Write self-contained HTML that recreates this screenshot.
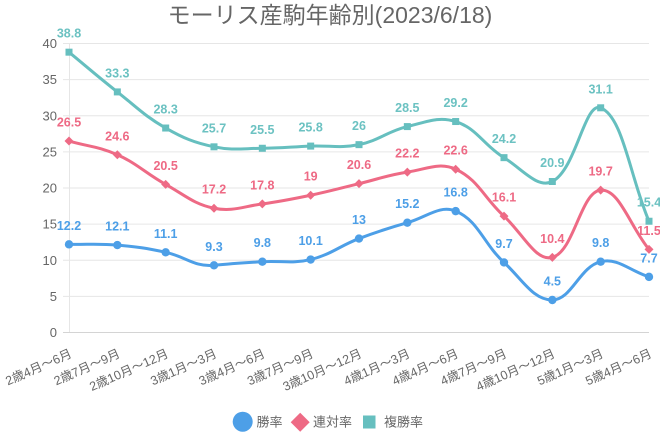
<!DOCTYPE html>
<html>
<head>
<meta charset="utf-8">
<style>
html,body{margin:0;padding:0;background:#fff;}
svg{display:block;}
text{font-family:"Liberation Sans","Noto Sans CJK JP",sans-serif;}
</style>
</head>
<body>
<svg width="660" height="440" viewBox="0 0 660 440" xmlns="http://www.w3.org/2000/svg">
<rect width="660" height="440" fill="#fff"/>
<!-- title -->
<text x="330" y="23" text-anchor="middle" font-size="23" fill="#666">モーリス産駒年齢別(2023/6/18)</text>

<!-- grid -->
<g stroke="#e6e6e6" stroke-width="1">
<line x1="63" y1="43.5" x2="649" y2="43.5"/>
<line x1="63" y1="79.6" x2="649" y2="79.6"/>
<line x1="63" y1="115.75" x2="649" y2="115.75"/>
<line x1="63" y1="151.9" x2="649" y2="151.9"/>
<line x1="63" y1="188" x2="649" y2="188"/>
<line x1="63" y1="224.1" x2="649" y2="224.1"/>
<line x1="63" y1="260.25" x2="649" y2="260.25"/>
<line x1="63" y1="296.4" x2="649" y2="296.4"/>
<line x1="69.5" y1="43" x2="69.5" y2="333"/>
</g>
<line x1="63" y1="332.5" x2="649" y2="332.5" stroke="#d4d4d4" stroke-width="1"/>

<!-- y labels -->
<g font-size="13" fill="#666" text-anchor="end">
<text x="57" y="48">40</text>
<text x="57" y="84.1">35</text>
<text x="57" y="120.25">30</text>
<text x="57" y="156.4">25</text>
<text x="57" y="192.5">20</text>
<text x="57" y="228.6">15</text>
<text x="57" y="264.75">10</text>
<text x="57" y="300.9">5</text>
<text x="57" y="337">0</text>
</g>

<!-- x labels -->
<g font-size="12.5" fill="#666" text-anchor="end" dominant-baseline="central">
<text transform="translate(71,353) rotate(-24)">2歳4月～6月</text>
<text transform="translate(119.33,353) rotate(-24)">2歳7月～9月</text>
<text transform="translate(167.67,353) rotate(-24)">2歳10月～12月</text>
<text transform="translate(216,353) rotate(-24)">3歳1月～3月</text>
<text transform="translate(264.33,353) rotate(-24)">3歳4月～6月</text>
<text transform="translate(312.67,353) rotate(-24)">3歳7月～9月</text>
<text transform="translate(361,353) rotate(-24)">3歳10月～12月</text>
<text transform="translate(409.33,353) rotate(-24)">4歳1月～3月</text>
<text transform="translate(457.67,353) rotate(-24)">4歳4月～6月</text>
<text transform="translate(506,353) rotate(-24)">4歳7月～9月</text>
<text transform="translate(554.33,353) rotate(-24)">4歳10月～12月</text>
<text transform="translate(602.67,353) rotate(-24)">5歳1月～3月</text>
<text transform="translate(651,353) rotate(-24)">5歳4月～6月</text>
</g>

<!-- teal 複勝率 -->
<path fill="none" stroke="#66bfbf" stroke-width="3" stroke-linejoin="round" d="M69,52.17 C88.33,68.07 97.65,76.46 117.33,91.91 C136.31,106.81 144.88,116.22 165.67,128.03 C183.54,138.18 193.99,142.63 214,146.82 C232.66,150.72 243.0,148.41 262.33,148.26 C281.66,148.11 291.34,146.81 310.67,146.09 C330.0,145.37 340.30,148.42 359,144.65 C378.96,140.62 387.42,131.35 407.33,126.59 C426.08,122.10 438.42,115.99 455.67,121.53 C477.09,128.41 483.57,144.98 504,157.65 C522.24,168.97 537.66,189.07 552.33,181.50 C576.32,169.13 584.56,101.18 600.67,107.80 C623.22,117.07 629.67,175.86 649,221.23"/>
<g fill="#66bfbf">
<rect x="65.5" y="48.67" width="7" height="7"/>
<rect x="113.83" y="88.41" width="7" height="7"/>
<rect x="162.17" y="124.53" width="7" height="7"/>
<rect x="210.5" y="143.32" width="7" height="7"/>
<rect x="258.83" y="144.76" width="7" height="7"/>
<rect x="307.17" y="142.59" width="7" height="7"/>
<rect x="355.5" y="141.15" width="7" height="7"/>
<rect x="403.83" y="123.09" width="7" height="7"/>
<rect x="452.17" y="118.03" width="7" height="7"/>
<rect x="500.5" y="154.15" width="7" height="7"/>
<rect x="548.83" y="178" width="7" height="7"/>
<rect x="597.17" y="104.3" width="7" height="7"/>
<rect x="645.5" y="217.73" width="7" height="7"/>
</g>

<!-- red 連対率 -->
<path fill="none" stroke="#ee6a85" stroke-width="3" stroke-linejoin="round" d="M69,141.04 C88.33,146.53 99.16,146.61 117.33,154.76 C137.83,163.95 145.84,173.42 165.67,184.39 C184.51,194.81 193.65,204.13 214,208.23 C232.32,211.93 243.11,206.48 262.33,203.89 C281.78,201.27 291.48,199.24 310.67,195.22 C330.15,191.14 339.67,188.28 359,183.66 C378.33,179.04 387.75,175.03 407.33,172.10 C426.41,169.25 439.51,161.84 455.67,169.21 C478.17,179.47 484.09,198.02 504,216.18 C522.75,233.28 535.54,261.87 552.33,257.36 C574.21,251.48 580.57,191.82 600.67,190.17 C619.24,188.64 629.67,225.71 649,249.41"/>
<g fill="#ee6a85">
<path d="M69,136.54 l4.5,4.5 l-4.5,4.5 l-4.5,-4.5z"/>
<path d="M117.33,150.26 l4.5,4.5 l-4.5,4.5 l-4.5,-4.5z"/>
<path d="M165.67,179.89 l4.5,4.5 l-4.5,4.5 l-4.5,-4.5z"/>
<path d="M214,203.73 l4.5,4.5 l-4.5,4.5 l-4.5,-4.5z"/>
<path d="M262.33,199.39 l4.5,4.5 l-4.5,4.5 l-4.5,-4.5z"/>
<path d="M310.67,190.72 l4.5,4.5 l-4.5,4.5 l-4.5,-4.5z"/>
<path d="M359,179.16 l4.5,4.5 l-4.5,4.5 l-4.5,-4.5z"/>
<path d="M407.33,167.6 l4.5,4.5 l-4.5,4.5 l-4.5,-4.5z"/>
<path d="M455.67,164.71 l4.5,4.5 l-4.5,4.5 l-4.5,-4.5z"/>
<path d="M504,211.68 l4.5,4.5 l-4.5,4.5 l-4.5,-4.5z"/>
<path d="M552.33,252.86 l4.5,4.5 l-4.5,4.5 l-4.5,-4.5z"/>
<path d="M600.67,185.67 l4.5,4.5 l-4.5,4.5 l-4.5,-4.5z"/>
<path d="M649,244.91 l4.5,4.5 l-4.5,4.5 l-4.5,-4.5z"/>
</g>

<!-- blue 勝率 -->
<path fill="none" stroke="#4d9fe7" stroke-width="3" stroke-linejoin="round" d="M69,244.35 C88.33,244.64 98.10,243.50 117.33,245.08 C136.77,246.68 146.57,248.30 165.67,252.30 C185.24,256.39 194.36,267.26 214,265.31 C233.02,263.42 242.98,262.85 262.33,261.69 C281.64,260.54 292.16,263.96 310.67,259.53 C330.83,254.71 339.33,246.07 359,238.57 C378.00,231.33 387.77,228.23 407.33,222.68 C426.44,217.25 439.68,204.55 455.67,211.12 C478.35,220.44 483.30,243.39 504,262.42 C521.97,278.94 533.06,300.14 552.33,299.99 C571.73,299.84 579.44,266.77 600.67,261.69 C618.11,257.52 629.67,270.80 649,276.87"/>
<g fill="#4d9fe7">
<circle cx="69" cy="244.35" r="4.2"/>
<circle cx="117.33" cy="245.08" r="4.2"/>
<circle cx="165.67" cy="252.3" r="4.2"/>
<circle cx="214" cy="265.31" r="4.2"/>
<circle cx="262.33" cy="261.69" r="4.2"/>
<circle cx="310.67" cy="259.53" r="4.2"/>
<circle cx="359" cy="238.57" r="4.2"/>
<circle cx="407.33" cy="222.68" r="4.2"/>
<circle cx="455.67" cy="211.12" r="4.2"/>
<circle cx="504" cy="262.42" r="4.2"/>
<circle cx="552.33" cy="299.99" r="4.2"/>
<circle cx="600.67" cy="261.69" r="4.2"/>
<circle cx="649" cy="276.87" r="4.2"/>
</g>

<!-- data labels -->
<g font-size="12.5" font-weight="bold" text-anchor="middle">
<g fill="#6cc2c2">
<text x="69" y="37.67">38.8</text>
<text x="117.33" y="77.41">33.3</text>
<text x="165.67" y="113.53">28.3</text>
<text x="214" y="132.32">25.7</text>
<text x="262.33" y="133.76">25.5</text>
<text x="310.67" y="131.59">25.8</text>
<text x="359" y="130.15">26</text>
<text x="407.33" y="112.09">28.5</text>
<text x="455.67" y="107.03">29.2</text>
<text x="504" y="143.15">24.2</text>
<text x="552.33" y="167">20.9</text>
<text x="600.67" y="93.3">31.1</text>
<text x="649" y="206.73">15.4</text>
</g>
<g fill="#ee6a85">
<text x="69" y="126.54">26.5</text>
<text x="117.33" y="140.26">24.6</text>
<text x="165.67" y="169.89">20.5</text>
<text x="214" y="193.73">17.2</text>
<text x="262.33" y="189.39">17.8</text>
<text x="310.67" y="180.72">19</text>
<text x="359" y="169.16">20.6</text>
<text x="407.33" y="157.6">22.2</text>
<text x="455.67" y="154.71">22.6</text>
<text x="504" y="201.68">16.1</text>
<text x="552.33" y="242.86">10.4</text>
<text x="600.67" y="175.67">19.7</text>
<text x="649" y="234.91">11.5</text>
</g>
<g fill="#4d9fe7">
<text x="69" y="229.85">12.2</text>
<text x="117.33" y="230.58">12.1</text>
<text x="165.67" y="237.8">11.1</text>
<text x="214" y="250.81">9.3</text>
<text x="262.33" y="247.19">9.8</text>
<text x="310.67" y="245.03">10.1</text>
<text x="359" y="224.07">13</text>
<text x="407.33" y="208.18">15.2</text>
<text x="455.67" y="196.62">16.8</text>
<text x="504" y="247.92">9.7</text>
<text x="552.33" y="285.49">4.5</text>
<text x="600.67" y="247.19">9.8</text>
<text x="649" y="262.37">7.7</text>
</g>
</g>

<!-- legend -->
<circle cx="242.7" cy="421.7" r="10" fill="#4d9fe7"/>
<text x="256.5" y="426.5" font-size="13" fill="#666">勝率</text>
<path d="M300.2,412.7 l9.5,9.5 l-9.5,9.5 l-9.5,-9.5z" fill="#ee6a85"/>
<text x="313" y="426.5" font-size="13" fill="#666">連対率</text>
<rect x="363" y="415.5" width="12.5" height="13" fill="#66bfbf"/>
<text x="384" y="426.5" font-size="13" fill="#666">複勝率</text>
</svg>
</body>
</html>
